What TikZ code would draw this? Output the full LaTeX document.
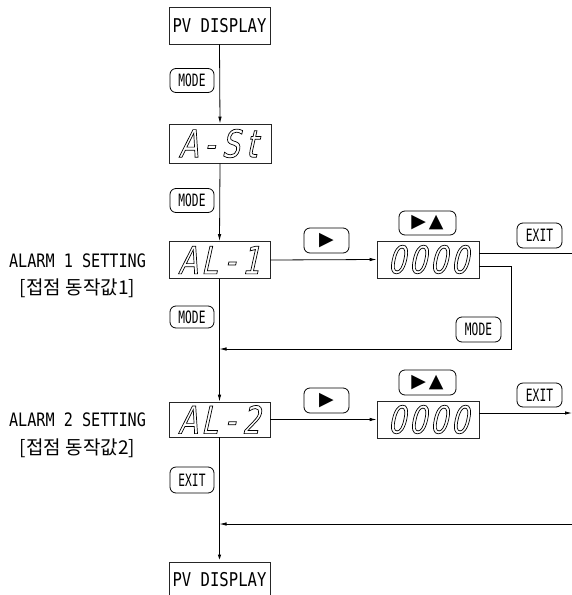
\documentclass[tikz,border=0pt]{standalone}
\usepackage{fontspec}
\usetikzlibrary{arrows.meta}
\newfontfamily\lblfont[FakeStretch=0.82]{DejaVu Sans Mono}
\newfontfamily\btnfont[FakeStretch=0.66]{DejaVu Sans Mono}
\newfontfamily\krfont{Noto Sans CJK KR}
\newfontfamily\symfont{DejaVu Sans}
\newfontfamily\segfont[FakeSlant=0.22,FakeStretch=0.75]{DejaVu Sans}
\newcommand\sg[1]{\makebox[21pt]{#1}}
\newcommand\segtxt[1]{\special{pdf:literal direct 1 Tr 0.7 w}#1\special{pdf:literal direct 0 Tr}}
\tikzset{
  lcd/.style={draw=black!85, line width=0.8pt, inner sep=0pt, minimum width=101pt, minimum height=37pt, font=\segfont\fontsize{38}{38}\selectfont},
  pvbox/.style={draw=black!85, line width=0.8pt, inner sep=0pt, minimum width=101pt, minimum height=37pt, font=\lblfont\fontsize{19}{19}\selectfont},
  btn/.style={draw=black, line width=0.8pt, rounded corners=6pt, inner sep=0pt, minimum width=44pt, minimum height=24pt, font=\btnfont\fontsize{17}{17}\selectfont},
  symbtn/.style={btn, font=\symfont\fontsize{19}{19}\selectfont},
  lbl/.style={inner sep=0pt, font=\lblfont\fontsize{18.5}{18.5}\selectfont},
  krlbl/.style={inner sep=0pt, font=\krfont\fontsize{19}{19}\selectfont},
  conn/.style={draw=black, line width=0.8pt},
  arr/.style={conn, -{Latex[length=7pt,width=3.5pt]}},
}
\begin{document}
\begin{tikzpicture}[x=1pt,y=-1pt]
\useasboundingbox (0,0) rectangle (572,595);
% main column
\node[pvbox] (pv1) at (219.5,25.5) {PV DISPLAY};
\node[btn] (mode1) at (192,80.5) {MODE};
\node[lcd, minimum width=102pt, minimum height=39pt] (ast) at (220,143.5) {\segtxt{\sg{A}\sg{-}\sg{S}\sg{t}}};
\node[btn] (mode2) at (192,200.5) {MODE};
\node[lcd] (al1) at (219.5,260) {\segtxt{\sg{A}\sg{L}\sg{-}\sg{1}}};
\node[btn, minimum height=22pt] (mode4) at (192,317) {MODE};
\node[lcd, minimum height=35pt] (al2) at (219.5,419.5) {\segtxt{\sg{A}\sg{L}\sg{-}\sg{2}}};
\node[btn, minimum height=26pt] (exit3) at (192,480) {EXIT};
\node[pvbox, minimum height=36pt] (pv2) at (219.5,580) {PV DISPLAY};
% left labels
\node[lbl] (lab1) at (77.5,261) {ALARM 1 SETTING};
\node[krlbl] (lab1k) at (77.5,288) {[접점 동작값1]};
\node[lbl] (lab2) at (77.5,420) {ALARM 2 SETTING};
\node[krlbl] (lab2k) at (77.5,448) {[접점 동작값2]};
% alarm 1 row
\node[symbtn, minimum width=45pt, minimum height=25pt] (rt1) at (326.5,240.5) {▶};
\node[symbtn, minimum width=57pt, minimum height=24pt] (ru1) at (427.5,223) {▶\hspace{3pt}▲};
\node[lcd, minimum width=102pt] (d1) at (428,259.5) {\segtxt{\sg{0}\sg{0}\sg{0}\sg{0}}};
\node[btn, minimum width=45pt, minimum height=25pt] (exit1) at (539.5,235.5) {EXIT};
\node[btn, minimum width=45pt, minimum height=25pt] (mode3) at (478.5,329.5) {MODE};
% alarm 2 row
\node[symbtn, minimum width=45pt, minimum height=25pt] (rt2) at (326.5,400.5) {▶};
\node[symbtn, minimum width=57pt, minimum height=25pt] (ru2) at (427.5,382.5) {▶\hspace{3pt}▲};
\node[lcd, minimum width=102pt] (d2) at (428,419.5) {\segtxt{\sg{0}\sg{0}\sg{0}\sg{0}}};
\node[btn, minimum width=45pt, minimum height=24pt] (exit2) at (539.5,395) {EXIT};
% coordinates
\coordinate (e1) at (572,253);
\coordinate (m1) at (511,266);
\coordinate (m2) at (511,349);
\coordinate (e2) at (572,413);
\coordinate (r3) at (572,524);
% connectors
\draw[arr] (pv1.south) -- (ast.north);
\draw[arr] (ast.south) -- (al1.north);
\draw[arr] (al1.east) -- (d1.west);
\draw[conn] (d1.east |- e1) -- (e1);
\draw[arr] (d1.east |- m1) -- (m1) -- (m2) -- (m2 -| al1.south);
\draw[arr] (al1.south) -- (al2.north);
\draw[arr] (al2.east) -- (d2.west);
\draw[arr] (d2.east |- e2) -- (e2);
\draw[arr] (r3) -- (r3 -| al2.south);
\draw[arr, line width=1.5pt] (al2.south) -- (pv2.north);
\end{tikzpicture}
\end{document}
